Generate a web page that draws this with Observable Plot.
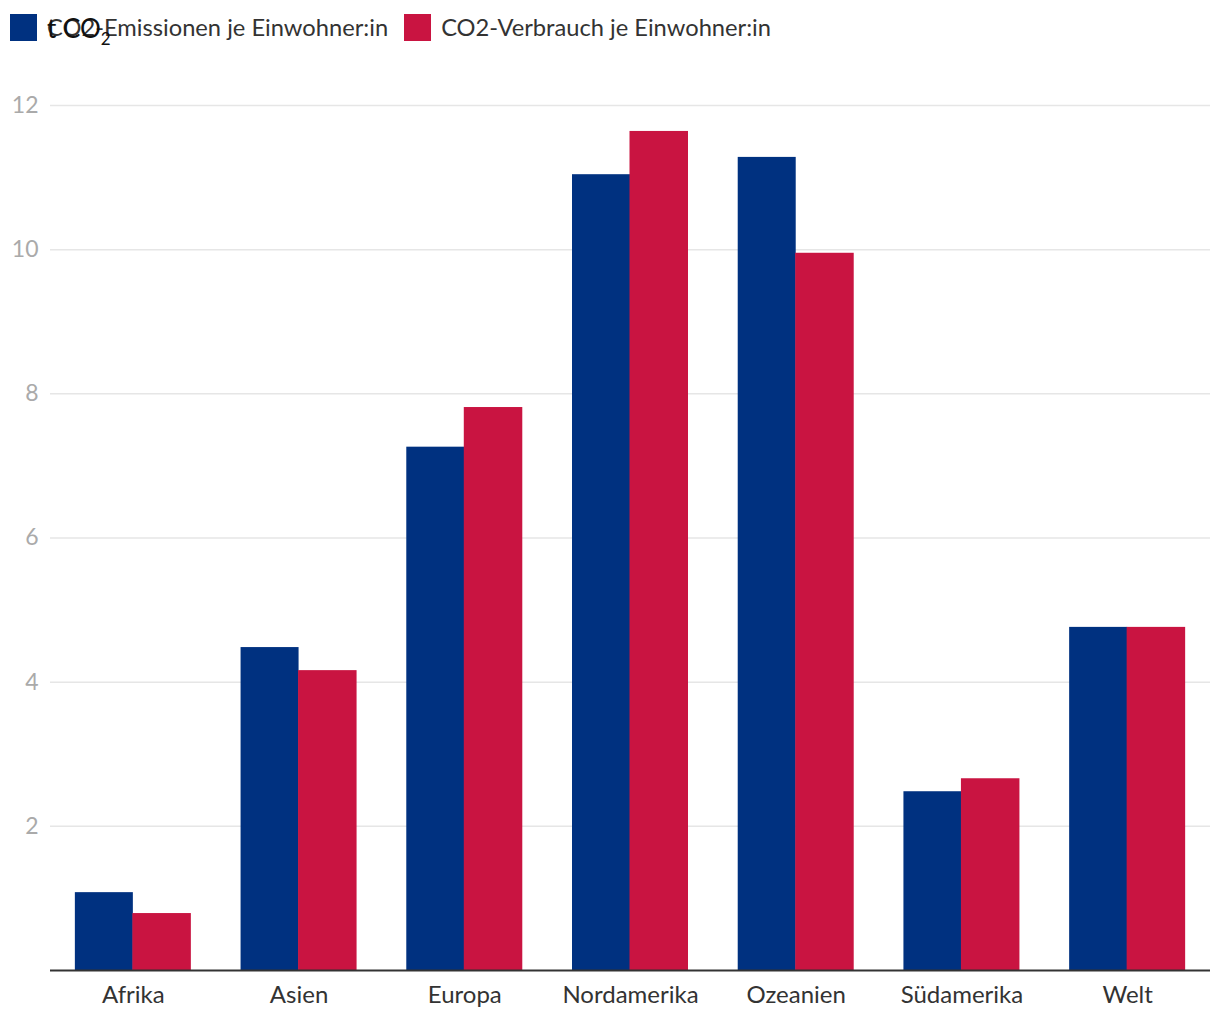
<!DOCTYPE html>
<html>
<head>
<meta charset="utf-8">
<script src="https://cdn.jsdelivr.net/npm/d3@7"></script>
<script src="https://cdn.jsdelivr.net/npm/@observablehq/plot@0.6"></script>
<style>
  html, body { margin: 0; padding: 0; background: #fff; }
  #wrap { position: relative; width: 1220px; height: 1020px; font-family: Lato, "Noto Sans", sans-serif; }
  #legend { position: absolute; left: 10px; top: 14px; display: flex; align-items: center; font-size: 23.7px; color: #333; z-index: 1; line-height: 27px; }
  .item { display: flex; align-items: center; margin-right: 16px; }
  .sw { width: 27px; height: 27px; margin-right: 10px; }
  #unit { position: absolute; left: 47px; top: 13px; font-size: 26px; color: #111; z-index: 2; line-height: 30px; }
  #unit sub { font-size: 17px; vertical-align: -7px; line-height: 0; }
  #chart { position: absolute; left: 0; top: 0; }
</style>
</head>
<body>
<div id="wrap">
  <div id="chart"></div>
  <div id="legend"></div>
  <div id="unit"></div>
</div>
<script>
const regions = ["Afrika", "Asien", "Europa", "Nordamerika", "Ozeanien", "Südamerika", "Welt"];
const emissions = [1.08, 4.48, 7.26, 11.04, 11.28, 2.48, 4.76];
const consumption = [0.79, 4.16, 7.81, 11.64, 9.95, 2.66, 4.76];
const seriesNames = ["CO2-Emissionen je Einwohner:in", "CO2-Verbrauch je Einwohner:in"];
const seriesColors = ["#003180", "#c91441"];
const yTicks = [2, 4, 6, 8, 10, 12];
const unitLabel = "t CO";
const unitSub = "2";

const emData = regions.map((r, i) => ({region: r, value: emissions[i]}));
const coData = regions.map((r, i) => ({region: r, value: consumption[i]}));

const width = 1220, height = 1020;
const marginLeft = 50, marginRight = 10, marginTop = 105, marginBottom = 50;
const step = (width - marginLeft - marginRight) / regions.length;
const half = step * 0.7 / 2;

const chart = Plot.plot({
  width, height, marginLeft, marginRight, marginTop, marginBottom,
  style: {fontFamily: "Lato, 'Noto Sans', sans-serif", background: "transparent"},
  x: {domain: regions, paddingInner: 0.3, paddingOuter: 0.15, round: false, label: null},
  y: {domain: [0, 12], label: null},
  marks: [
    Plot.gridY(yTicks, {stroke: "#e6e6e6", strokeOpacity: 1, strokeWidth: 1.5}),
    Plot.barY(emData, {x: "region", y: "value", fill: seriesColors[0], insetRight: half}),
    Plot.barY(coData, {x: "region", y: "value", fill: seriesColors[1], insetLeft: half - 0.5}),
    Plot.ruleY([0], {stroke: "#333", strokeWidth: 2}),
    Plot.axisY(yTicks, {tickSize: 0, tickPadding: 12, fontSize: 23, fill: "#aaa", tickFormat: "d", label: null}),
    Plot.axisX({tickSize: 0, tickPadding: 15, fontSize: 24, fill: "#333", label: null})
  ]
});
document.getElementById("chart").appendChild(chart);

const legend = document.getElementById("legend");
seriesNames.forEach((name, i) => {
  const item = document.createElement("div");
  item.className = "item";
  const sw = document.createElement("div");
  sw.className = "sw";
  sw.style.background = seriesColors[i];
  const t = document.createElement("span");
  t.textContent = name;
  item.appendChild(sw);
  item.appendChild(t);
  legend.appendChild(item);
});
const unit = document.getElementById("unit");
unit.appendChild(document.createTextNode(unitLabel));
const sub = document.createElement("sub");
sub.textContent = unitSub;
unit.appendChild(sub);
</script>
</body>
</html>
